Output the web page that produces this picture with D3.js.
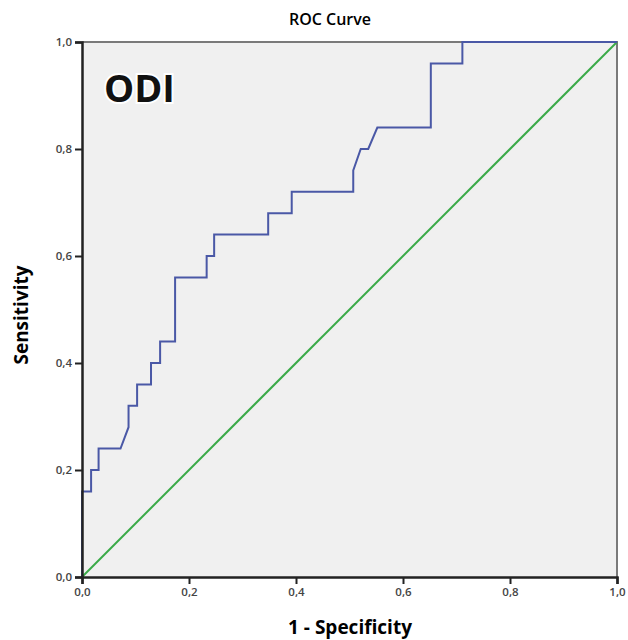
<!DOCTYPE html>
<meta charset="utf-8">
<html>
<head>
    <title>ROC Curve</title>
    <script src="https://cdn.jsdelivr.net/npm/d3@7"></script>
</head>
<style>
    body{ margin:0; background:#fff; }
    svg{ width:628px; height:640px; display:block; }
    text{ font-family: "Open Sans", sans-serif; }
    .tick text{ fill:#444; font-size:11.5px; font-weight:600; }
</style>
<body>
<svg></svg>
<script>
    // ROC points: 1 - specificity, sensitivity
    const fpr = [0, 0, 0.017, 0.017, 0.031, 0.031, 0.072, 0.087, 0.087, 0.103, 0.103, 0.129, 0.129,
                 0.146, 0.146, 0.174, 0.174, 0.233, 0.233, 0.247, 0.247, 0.348, 0.348, 0.392, 0.392,
                 0.507, 0.507, 0.521, 0.535, 0.552, 0.652, 0.652, 0.711, 0.711, 1]
    const tpr = [0, 0.16, 0.16, 0.20, 0.20, 0.24, 0.24, 0.28, 0.32, 0.32, 0.36, 0.36, 0.40,
                 0.40, 0.44, 0.44, 0.56, 0.56, 0.60, 0.60, 0.64, 0.64, 0.68, 0.68, 0.72,
                 0.72, 0.76, 0.80, 0.80, 0.84, 0.84, 0.96, 0.96, 1, 1]
    const ref = [0, 1]   // reference diagonal
    const tickValues = [0, 0.2, 0.4, 0.6, 0.8, 1]

    const svg = d3.select("svg")
    const pLeft = 82, pRight = 617, pTop = 42, pBottom = 577

    const x = d3.scaleLinear().domain([0, 1]).range([pLeft, pRight])
    const y = d3.scaleLinear().domain([0, 1]).range([pBottom, pTop])
    const fmt = d => d3.format(".1f")(d).replace(".", ",")

    // plot background
    svg.append("rect")
        .attr("x", pLeft).attr("y", pTop)
        .attr("width", pRight - pLeft).attr("height", pBottom - pTop)
        .attr("fill", "#f0f0f0")

    // frame top/right
    svg.append("path")
        .attr("d", `M${pLeft},${pTop}H${pRight}V${pBottom}`)
        .attr("fill", "none").attr("stroke", "#7a7a7a").attr("stroke-width", 2)

    // diagonal reference line
    svg.append("line")
        .attr("x1", x(ref[0])).attr("y1", y(ref[0]))
        .attr("x2", x(ref[1])).attr("y2", y(ref[1]))
        .attr("stroke", "#3aaa48").attr("stroke-width", 2)

    // ROC curve
    const pts = fpr.map((v, i) => [v, tpr[i]])
    svg.append("path")
        .datum(pts)
        .attr("d", d3.line().x(d => x(d[0])).y(d => y(d[1])))
        .attr("fill", "none").attr("stroke", "#4a58a6").attr("stroke-width", 2)

    // axes
    const xAxis = svg.append("g")
        .attr("transform", `translate(0,${pBottom})`)
        .call(d3.axisBottom(x).tickValues(tickValues).tickFormat(fmt).tickSize(7).tickPadding(4))
    const yAxis = svg.append("g")
        .attr("transform", `translate(${pLeft},0)`)
        .call(d3.axisLeft(y).tickValues(tickValues).tickFormat(fmt).tickSize(7).tickPadding(3))
    for (const g of [xAxis, yAxis]) {
        g.select(".domain").attr("stroke", "#222").attr("stroke-width", 2.5)
        g.selectAll(".tick line").attr("stroke", "#222").attr("stroke-width", 2)
    }

    // titles
    svg.append("text")
        .attr("x", 330).attr("y", 25)
        .attr("text-anchor", "middle")
        .style("font-size", "16px").style("font-weight", 600)
        .text("ROC Curve")
    svg.append("text")
        .attr("x", 350).attr("y", 634)
        .attr("text-anchor", "middle")
        .style("font-size", "19px").style("font-weight", 700)
        .text("1 - Specificity")
    svg.append("text")
        .attr("transform", "translate(28,315) rotate(-90)")
        .attr("text-anchor", "middle")
        .style("font-size", "19px").style("font-weight", 700)
        .text("Sensitivity")

    // ODI label with white halo
    svg.append("text")
        .attr("x", 104).attr("y", 102)
        .style("font-size", "38px").style("font-weight", 700)
        .attr("fill", "#111")
        .attr("stroke", "#fff").attr("stroke-width", 4).attr("paint-order", "stroke")
        .text("ODI")
</script>
</body>
</html>
